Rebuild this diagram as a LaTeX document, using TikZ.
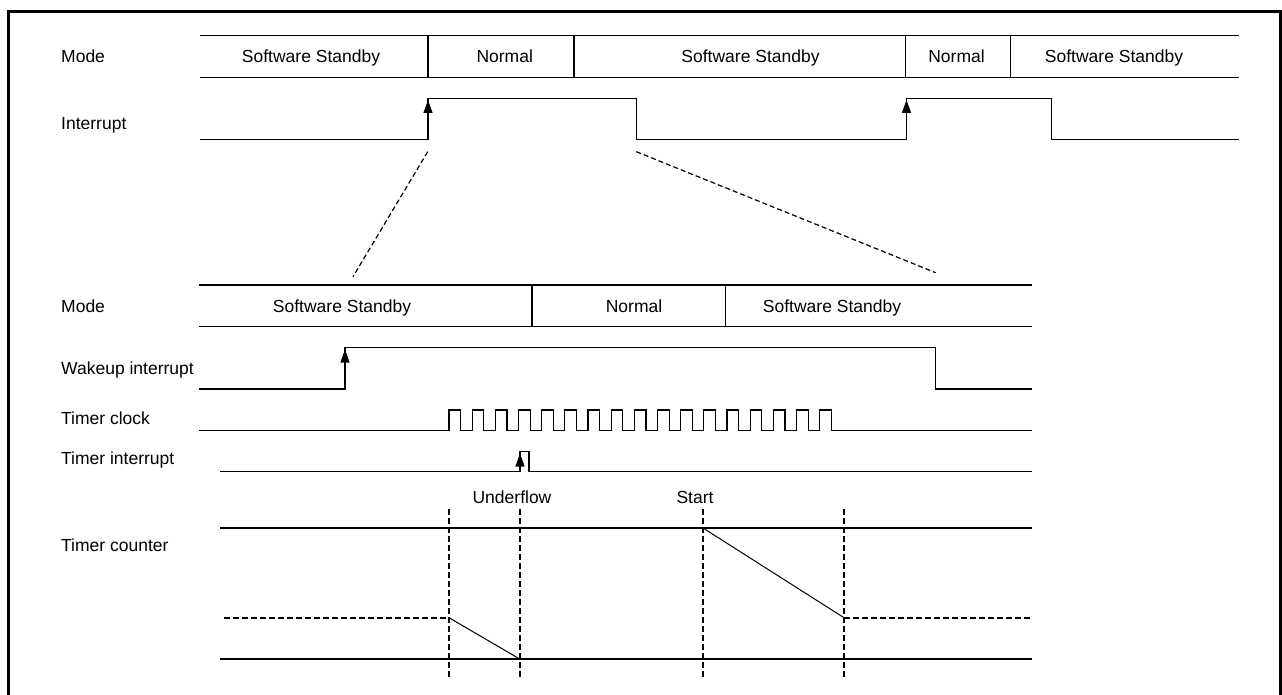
\documentclass[tikz,border=0pt]{standalone}
\usepackage{fontspec}
\setmainfont{Liberation Sans}
\usetikzlibrary{arrows.meta}
\begin{document}
\begin{tikzpicture}[x=1pt,y=-1pt,
  sig/.style={line width=1.2pt, line join=miter},
  risearrow/.style={line width=1.2pt,-{Triangle[length=13pt,width=9pt]}},
  lbl/.style={anchor=base west, inner sep=0pt, font=\fontsize{17.5}{20}\selectfont},
  txt/.style={anchor=base, inner sep=0pt, font=\fontsize{17.5}{20}\selectfont},
  cdash/.style={line width=1.2pt, dash pattern=on 5pt off 3pt},
  tdash/.style={line width=2pt, dash pattern=on 6pt off 3pt}]
\useasboundingbox (0,0) rectangle (1282,695);
% frame
\draw[line width=2.7pt] (8.7,705) -- (8.7,11.3) -- (1280.5,11.3) -- (1280.5,705);

% ---------- top section ----------
\node[lbl] (m1) at (61,63) {Mode};
\node[lbl] (i1) at (61,129.3) {Interrupt};
\draw[sig] (200,35.7) -- (1239,35.7) (200,77.3) -- (1239,77.3);
\foreach \x in {428,574,905.7,1010.7} \draw[sig] (\x,35.7) -- (\x,77.3);
\node[txt] (t1) at (311,63) {Software Standby};
\node[txt] (t2) at (504.7,63) {Normal};
\node[txt] (t3) at (750.5,63) {Software Standby};
\node[txt] (t4) at (956.5,63) {Normal};
\node[txt] (t5) at (1114,63) {Software Standby};
\draw[sig] (200,139.3) -- (428,139.3) -- (428,98.3) -- (636.3,98.3) -- (636.3,139.3)
  -- (906.5,139.3) -- (906.5,98.3) -- (1051.7,98.3) -- (1051.7,139.3) -- (1239,139.3);
\draw[risearrow] (428,125) -- (428,100);
\draw[risearrow] (906.5,125) -- (906.5,100);

% zoom connectors
\coordinate (za) at (427.7,151.7);
\coordinate (zb) at (353,276.7);
\coordinate (zc) at (636.3,151.7);
\coordinate (zd) at (935.7,272.7);
\draw[cdash] (za) -- (zb);
\draw[cdash] (zc) -- (zd);

% ---------- bottom section ----------
\node[lbl] (m2) at (61,312) {Mode};
\draw[sig] (199,285) -- (1031.7,285) (199,326.7) -- (1031.7,326.7);
\foreach \x in {532,725.7} \draw[sig] (\x,285) -- (\x,326.7);
\node[txt] (b1) at (342,312) {Software Standby};
\node[txt] (b2) at (634,312) {Normal};
\node[txt] (b3) at (832,312) {Software Standby};

\node[lbl] (w) at (61,374.5) {Wakeup interrupt};
\draw[sig] (199,389) -- (345,389) -- (345,347.7) -- (935.7,347.7) -- (935.7,389) -- (1031.7,389);
\draw[risearrow] (345,375) -- (345,349.5);

\node[lbl] (tc) at (61,424) {Timer clock};
\draw[sig] (199,430.7)
  \foreach \i in {0,...,16}{ -- ({449+\i*23.17},430.7) -- ({449+\i*23.17},410)
    -- ({460.6+\i*23.17},410) -- ({460.6+\i*23.17},430.7)} -- (1031.7,430.7);

\node[lbl] (ti) at (61,464) {Timer interrupt};
\draw[sig] (220,471.7) -- (520,471.7) -- (520,451.7) -- (529,451.7) -- (529,471.7) -- (1031.7,471.7);
\draw[risearrow] (520,470) -- (520,453.5);

\node[lbl] (tcnt) at (61,551) {Timer counter};
\node[txt] (uf) at (512,503) {Underflow};
\node[txt] (st) at (695,503) {Start};
\draw[sig] (220,528) -- (1032,528) (220,659) -- (1032,659);
\foreach \x in {449,519.7,703,844} \draw[tdash] (\x,509) -- (\x,677);
\draw[tdash] (224,617.7) -- (449,617.7);
\draw[tdash] (844,617.7) -- (1032,617.7);
\draw[line width=1pt] (449,617.7) -- (519.7,659);
\draw[line width=1pt] (703,528) -- (844,617.7);
\end{tikzpicture}
\end{document}
